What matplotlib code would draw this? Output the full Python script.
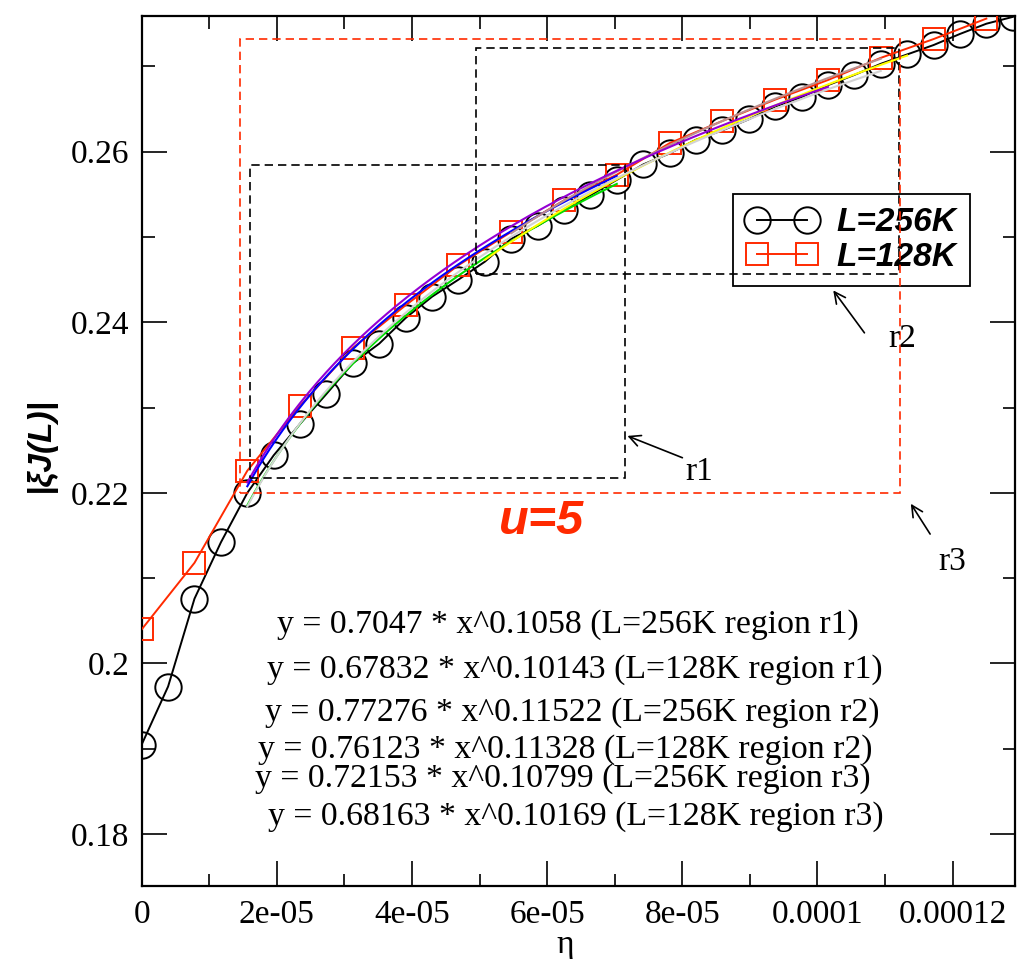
import matplotlib
matplotlib.use('Agg')
import matplotlib.pyplot as plt
from matplotlib.patches import Rectangle
import numpy as np

plt.rcParams['font.family'] = ['Liberation Serif', 'DejaVu Serif']

# eta values (step ~ 1/256000 for L=256K, twice that for L=128K)
eta_256 = [0, 3.906e-6, 7.813e-6, 1.172e-5, 1.563e-5, 1.953e-5, 2.344e-5, 2.734e-5,
           3.125e-5, 3.516e-5, 3.906e-5, 4.297e-5, 4.688e-5, 5.078e-5, 5.469e-5,
           5.859e-5, 6.25e-5, 6.641e-5, 7.031e-5, 7.422e-5, 7.813e-5, 8.203e-5,
           8.594e-5, 8.984e-5, 9.375e-5, 9.766e-5, 1.0156e-4, 1.0547e-4, 1.0938e-4,
           1.1328e-4, 1.1719e-4, 1.2109e-4, 1.25e-4, 1.2891e-4]
J_256 = [0.1905, 0.1973, 0.2076, 0.2142, 0.2200, 0.2244, 0.2281, 0.2316, 0.2352,
         0.2375, 0.2405, 0.2430, 0.2450, 0.2471, 0.2498, 0.2513, 0.2532, 0.2549,
         0.2567, 0.2585, 0.2598, 0.2614, 0.2625, 0.2638, 0.2653, 0.2664, 0.2678,
         0.2690, 0.2703, 0.2714, 0.2725, 0.2738, 0.2750, 0.2758]

eta_128 = [0, 7.813e-6, 1.563e-5, 2.344e-5, 3.125e-5, 3.906e-5, 4.688e-5, 5.469e-5,
           6.25e-5, 7.031e-5, 7.813e-5, 8.594e-5, 9.375e-5, 1.0156e-4, 1.0938e-4,
           1.1719e-4, 1.25e-4]
J_128 = [0.2040, 0.2118, 0.2226, 0.2302, 0.2370, 0.2420, 0.2467, 0.2506, 0.2543,
         0.2573, 0.2610, 0.2636, 0.2661, 0.2684, 0.2710, 0.2732, 0.2756]

# power law fits y = a * x^b
fit_a = [0.7047, 0.67832, 0.77276, 0.76123, 0.72153, 0.68163]
fit_b = [0.1058, 0.10143, 0.11522, 0.11328, 0.10799, 0.10169]
fit_L = ['256K', '128K', '256K', '128K', '256K', '128K']
fit_region = ['r1', 'r1', 'r2', 'r2', 'r3', 'r3']
fit_from = [1.563e-5, 1.563e-5, 5.078e-5, 5.469e-5, 1.563e-5, 1.563e-5]
fit_to = [7.031e-5, 7.031e-5, 1.1328e-4, 1.0938e-4, 1.0938e-4, 1.0156e-4]
fit_colors = ['#00dd00', '#0000ff', '#ffff00', '#bc8f8f', '#d3d3d3', '#9400d3']

# fit regions (dashed boxes)
region_x0 = [1.61e-5, 4.95e-5, 1.455e-5]
region_x1 = [7.15e-5, 1.12e-4, 1.122e-4]
region_y0 = [0.2218, 0.2457, 0.2200]
region_y1 = [0.2584, 0.2721, 0.2732]
region_colors = ['black', 'black', '#ff2a00']

xticks = [0, 2e-5, 4e-5, 6e-5, 8e-5, 1e-4, 1.2e-4]
xtick_labels = ['0', '2e-05', '4e-05', '6e-05', '8e-05', '0.0001', '0.00012']
yticks = [0.18, 0.2, 0.22, 0.24, 0.26]
ytick_labels = ['0.18', '0.2', '0.22', '0.24', '0.26']

W, H = 1026, 959
def fx(px):
    return px / W
def fy(py):
    return 1 - py / H

red = '#ff2a00'

fig = plt.figure(figsize=(W / 100, H / 100), dpi=100)
ax = fig.add_axes([fx(141.7), fy(885.7), (1015 - 141.7) / W, (885.7 - 15.7) / H])

l1, = ax.plot(eta_256, J_256, color='black', lw=1.4, marker='o', ms=19,
              mfc='none', mec='black', mew=1.4, label='L=256K', zorder=3)
l2, = ax.plot(eta_128, J_128, color=red, lw=1.4, marker='s', ms=15.5,
              mfc='none', mec=red, mew=1.4, label='L=128K', zorder=3)

for i in range(len(fit_a)):
    xs = np.linspace(fit_from[i], fit_to[i], 200)
    ax.plot(xs, fit_a[i] * xs ** fit_b[i], color=fit_colors[i], lw=1.5, zorder=4)

leg = ax.legend(handles=[l1, l2], loc='upper left', numpoints=2,
                bbox_to_anchor=(fx(733.3), fy(194)), bbox_transform=fig.transFigure,
                borderaxespad=0, fancybox=False, edgecolor='black', framealpha=1,
                handlelength=2.1, handletextpad=0.6, borderpad=0.4, labelspacing=0.1,
                prop={'family': 'Liberation Sans', 'weight': 'bold', 'style': 'italic', 'size': 24})
leg.get_frame().set_linewidth(1.3)

for i in range(len(region_x0)):
    ax.add_patch(Rectangle((region_x0[i], region_y0[i]), region_x1[i] - region_x0[i],
                           region_y1[i] - region_y0[i], fill=False, ec=region_colors[i],
                           lw=1.2, ls=(0, (5, 3)), zorder=6))

ax.set_xlim(0, 1.2924e-4)
ax.set_ylim(0.17395, 0.27594)
ax.set_xticks(xticks)
ax.set_xticklabels(xtick_labels)
ax.set_xticks([1e-5, 3e-5, 5e-5, 7e-5, 9e-5, 1.1e-4], minor=True)
ax.set_yticks(yticks)
ax.set_yticklabels(ytick_labels)
ax.set_yticks([0.19, 0.21, 0.23, 0.25, 0.27], minor=True)
ax.tick_params(which='both', direction='in', top=True, right=True, width=1.2, labelsize=24)
ax.tick_params(which='major', length=18)
ax.tick_params(which='minor', length=9)
ax.tick_params(axis='x', pad=10)
ax.tick_params(axis='y', pad=9)
for s in ax.spines.values():
    s.set_linewidth(1.6)

# fit equations
eq_left = [276.7, 266.7, 265, 258.3, 255, 268.3]
eq_base = [633, 678, 721, 758, 787, 825]
for i in range(len(fit_a)):
    txt = f"y = {fit_a[i]} * x^{fit_b[i]} (L={fit_L[i]} region {fit_region[i]})"
    fig.text(fx(eq_left[i]), fy(eq_base[i]), txt, fontsize=24.3, ha='left', va='baseline')

# region labels with arrows
ax.annotate('', xy=(7.15e-5, 0.2268), xytext=(8.04e-5, 0.2240),
            arrowprops=dict(arrowstyle='->', color='black', lw=1.2, mutation_scale=20))
ax.annotate('', xy=(1.021e-4, 0.2440), xytext=(1.072e-4, 0.2385),
            arrowprops=dict(arrowstyle='->', color='black', lw=1.2, mutation_scale=20))
ax.annotate('', xy=(1.136e-4, 0.2190), xytext=(1.169e-4, 0.2149),
            arrowprops=dict(arrowstyle='->', color='black', lw=1.2, mutation_scale=20))
fig.text(fx(685), fy(480), 'r1', fontsize=24, ha='left', va='baseline')
fig.text(fx(888), fy(346.7), 'r2', fontsize=24, ha='left', va='baseline')
fig.text(fx(938), fy(570), 'r3', fontsize=24, ha='left', va='baseline')

fig.text(fx(542), fy(534), 'u=5', color=red, fontsize=35, ha='center', va='baseline',
         family='Liberation Sans', weight='bold', style='italic')

fig.text(fx(40), fy(445), '|ξJ(L)|', rotation=90, ha='center', va='center', fontsize=24,
         family='Liberation Sans', weight='bold', style='italic')
fig.text(fx(565), fy(945), 'η', ha='center', va='center', fontsize=24)

fig.savefig('out.png', dpi=100)
